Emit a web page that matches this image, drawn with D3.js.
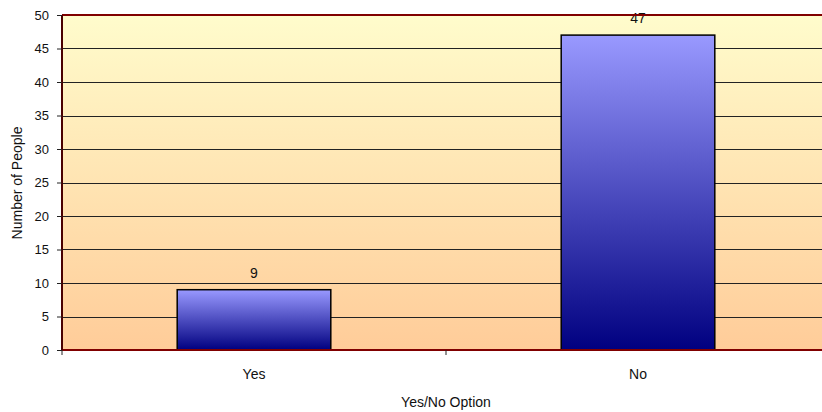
<!DOCTYPE html>
<html>
<head>
<meta charset="utf-8">
<script src="https://cdn.jsdelivr.net/npm/d3@7"></script>
<style>
html,body{margin:0;padding:0;background:#fff;}
svg text{font-family:"Liberation Sans",Arial,sans-serif;fill:#111;}
</style>
</head>
<body>
<svg id="chart" width="822" height="412"></svg>
<script>
const categories = ["Yes", "No"];
const values = [9, 47];
const yTicks = [0, 5, 10, 15, 20, 25, 30, 35, 40, 45, 50];
const yTitle = "Number of People";
const xTitle = "Yes/No Option";

const svg = d3.select("#chart");
const pLeft = 62, pRight = 830, pTop = 15, pBottom = 350;

const x = d3.scaleBand().domain(categories).range([pLeft, pRight]).paddingInner(0).paddingOuter(0);
const y = d3.scaleLinear().domain([0, 50]).range([pBottom, pTop]);

const defs = svg.append("defs");
const bg = defs.append("linearGradient").attr("id", "bg").attr("x1", 0).attr("y1", 0).attr("x2", 0).attr("y2", 1);
bg.append("stop").attr("offset", "0%").attr("stop-color", "#FFFCCC");
bg.append("stop").attr("offset", "100%").attr("stop-color", "#FFCC99");
const bar = defs.append("linearGradient").attr("id", "bar").attr("x1", 0).attr("y1", 0).attr("x2", 0).attr("y2", 1);
bar.append("stop").attr("offset", "0%").attr("stop-color", "#9999FF");
bar.append("stop").attr("offset", "100%").attr("stop-color", "#000080");

svg.append("rect").attr("x", pLeft).attr("y", pTop).attr("width", pRight - pLeft).attr("height", pBottom - pTop).attr("fill", "url(#bg)");

// gridlines
svg.append("g").selectAll("line").data(yTicks.filter(d => d > 0 && d < 50)).join("line")
  .attr("x1", pLeft).attr("x2", pRight)
  .attr("y1", d => Math.round(y(d)) + 0.5).attr("y2", d => Math.round(y(d)) + 0.5)
  .attr("stroke", "#222").attr("stroke-width", 1);

// bars
const bw = x.bandwidth() * 0.4;
svg.append("g").selectAll("rect").data(categories).join("rect")
  .attr("x", (d) => x(d) + (x.bandwidth() - bw) / 2)
  .attr("y", (d, i) => y(values[i]))
  .attr("width", bw)
  .attr("height", (d, i) => y(0) - y(values[i]))
  .attr("fill", "url(#bar)")
  .attr("stroke", "#000").attr("stroke-width", 1.5);

// value labels
svg.append("g").selectAll("text").data(categories).join("text")
  .attr("x", d => x(d) + x.bandwidth() / 2)
  .attr("y", (d, i) => y(values[i]) - 12)
  .attr("text-anchor", "middle").attr("font-size", 14)
  .text((d, i) => values[i]);

// borders
svg.append("line").attr("x1", pLeft).attr("x2", pRight).attr("y1", pTop).attr("y2", pTop).attr("stroke", "#800000").attr("stroke-width", 2);
svg.append("line").attr("x1", pLeft).attr("x2", pRight).attr("y1", pBottom).attr("y2", pBottom).attr("stroke", "#800000").attr("stroke-width", 2);
svg.append("line").attr("x1", pLeft).attr("x2", pLeft).attr("y1", pTop).attr("y2", pBottom).attr("stroke", "#4a0000").attr("stroke-width", 2);

// y axis
const yAxis = d3.axisLeft(y).tickValues(yTicks).tickSize(5).tickPadding(8);
const gy = svg.append("g").attr("transform", `translate(${pLeft},0)`).call(yAxis);
gy.select(".domain").remove();
gy.selectAll(".tick line").attr("stroke", "#222");
gy.selectAll(".tick text").attr("font-size", 13).attr("font-family", "Liberation Sans, Arial, sans-serif").attr("fill", "#111");

// x axis ticks at band boundaries
const xb = [pLeft, x("No")];
svg.append("g").selectAll("line").data(xb).join("line")
  .attr("x1", d => d).attr("x2", d => d).attr("y1", pBottom).attr("y2", pBottom + 5)
  .attr("stroke", "#222");
svg.append("g").selectAll("text").data(categories).join("text")
  .attr("x", d => x(d) + x.bandwidth() / 2).attr("y", 379)
  .attr("text-anchor", "middle").attr("font-size", 14).text(d => d);

// titles
svg.append("text").attr("x", 446).attr("y", 407).attr("text-anchor", "middle").attr("font-size", 14).text(xTitle);
svg.append("text").attr("transform", "translate(22,183) rotate(-90)").attr("text-anchor", "middle").attr("font-size", 14).text(yTitle);
</script>
</body>
</html>
